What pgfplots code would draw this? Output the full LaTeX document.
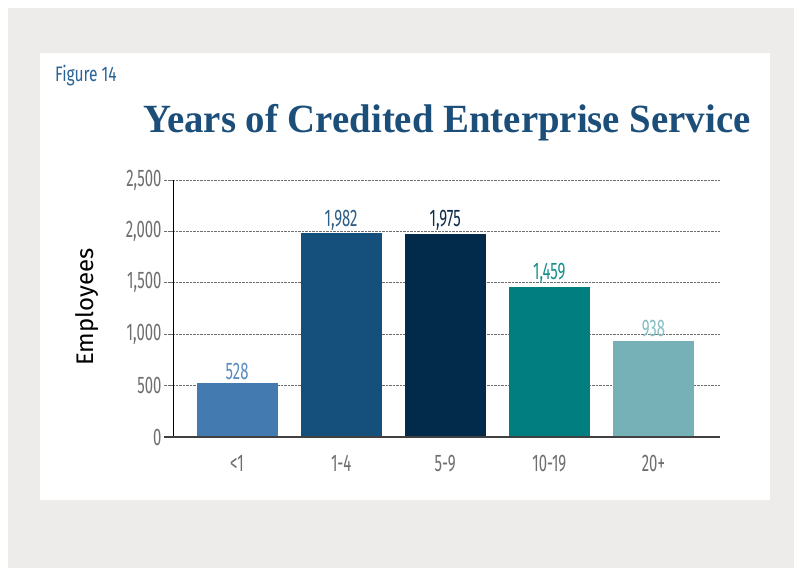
\documentclass[border=0pt]{standalone}
\usepackage{fontspec}
\setmainfont{Fira Sans}
\newfontfamily\cond[FakeStretch=0.62]{Fira Sans}
\newfontfamily\condfig[FakeStretch=0.74]{Fira Sans}
\newfontfamily\titlefont[FakeStretch=0.97]{Liberation Serif}
\usepackage{pgfplots}
\pgfplotsset{compat=1.18}

\definecolor{bggray}{HTML}{EDECEA}
\definecolor{titleblue}{HTML}{1B4F7A}
\definecolor{figblue}{HTML}{2A6496}
\definecolor{tickgray}{HTML}{6E6E6E}
\definecolor{cA}{HTML}{437BB1}
\definecolor{cB}{HTML}{14507B}
\definecolor{cC}{HTML}{022A4A}
\definecolor{cD}{HTML}{007E80}
\definecolor{cE}{HTML}{75B1B7}
\definecolor{lA}{HTML}{5A8CC2}
\definecolor{lB}{HTML}{2D5E87}
\definecolor{lC}{HTML}{0F2D4B}
\definecolor{lD}{HTML}{16908F}
\definecolor{lE}{HTML}{86BDC1}

\begin{document}
\begin{tikzpicture}
% page and panels
\path[use as bounding box, fill=white] (0pt,0pt) rectangle (794pt,573pt);
\fill[bggray] (8pt,5pt) rectangle (794pt,565pt);
\fill[white] (40pt,73pt) rectangle (770pt,520pt);

\node[anchor=base west, text=figblue, font=\condfig\fontsize{21}{21}\selectfont, inner sep=0pt]
  at (55pt,491pt) {Figure 14};
\node[anchor=base, text=titleblue, font=\titlefont\bfseries\fontsize{40}{40}\selectfont, inner sep=0pt]
  at (447pt,440pt) {Years of Credited Enterprise Service};
\node[rotate=90, font=\fontsize{24}{24}\selectfont, inner sep=0pt]
  at (87pt,266pt) {Employees};

\begin{axis}[
  at={(173pt,136pt)}, anchor=south west,
  scale only axis, width=547pt, height=257pt,
  ybar, bar width=81pt, bar shift=0pt,
  xmin=-0.615, xmax=4.64,
  ymin=0, ymax=2500,
  ytick={0,500,1000,1500,2000,2500},
  xtick={0,1,2,3,4},
  xticklabels={{<1},{1-4},{5-9},{10-19},{20+}},
  axis x line*=bottom, axis y line*=left,
  x axis line style={draw=none},
  y axis line style={-, black, line width=0.9pt},
  ymajorgrids, grid style={densely dotted, tickgray, line width=0.6pt},
  tick align=outside,
  xtick style={draw=none},
  ytick style={densely dotted, tickgray, line width=0.6pt},
  major tick length=9pt,
  scaled y ticks=false,
  /pgf/number format/.cd, 1000 sep={,}, assume math mode=true, /pgfplots/.cd,
  tick label style={font=\cond\fontsize{24}{24}\selectfont, text=tickgray},
  yticklabel style={xshift=1pt},
  xticklabel style={yshift=-6pt},
  nodes near coords,
  nodes near coords style={font=\cond\fontsize{24}{24}\selectfont, inner sep=3pt},
  clip=false,
]
\addplot[fill=cA, draw=none, every node near coord/.append style={text=lA}] coordinates {(0,528)};
\addplot[fill=cB, draw=none, every node near coord/.append style={text=lB}] coordinates {(1,1982)};
\addplot[fill=cC, draw=none, every node near coord/.append style={text=lC}] coordinates {(2,1975)};
\addplot[fill=cD, draw=none, every node near coord/.append style={text=lD}] coordinates {(3,1459)};
\addplot[fill=cE, draw=none, every node near coord/.append style={text=lE}] coordinates {(4,938)};
\draw[black!75, line width=1.4pt] ([xshift=-9pt]axis cs:-0.615,0) -- (axis cs:4.64,0);
\end{axis}
\end{tikzpicture}
\end{document}
